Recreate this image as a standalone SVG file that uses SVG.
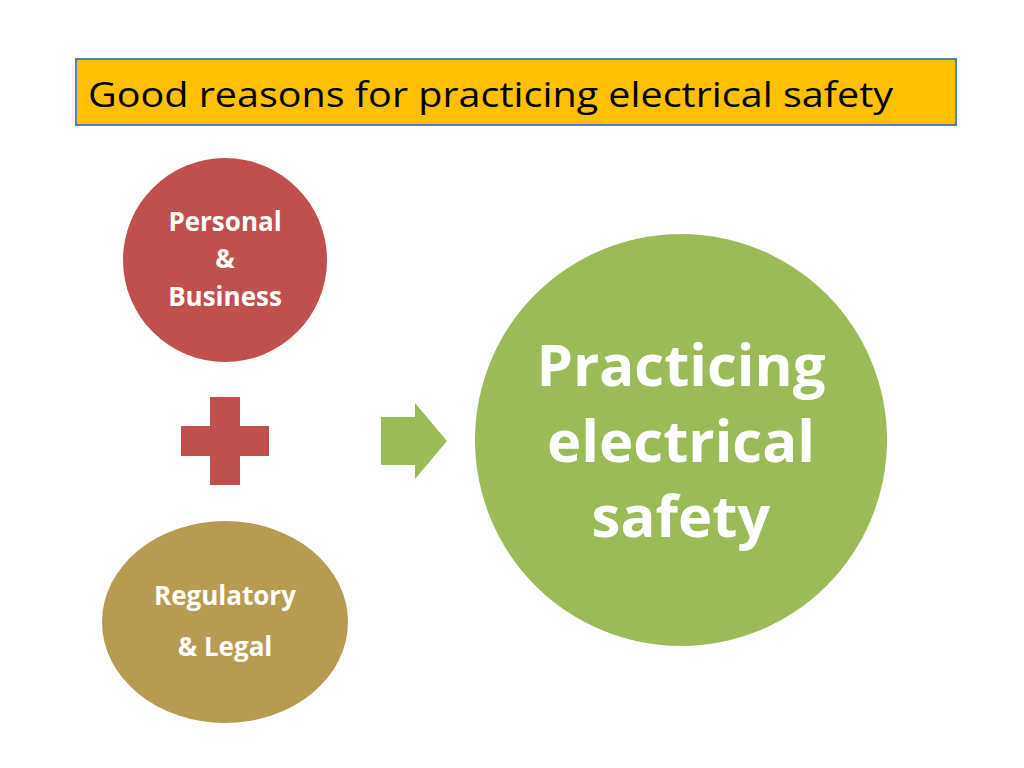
<svg xmlns="http://www.w3.org/2000/svg" width="1024" height="768" viewBox="0 0 1024 768">
<style>
.w{fill:#fff;font-family:"Open Sans","Liberation Sans",sans-serif;font-weight:bold;text-anchor:middle}
</style>
<rect width="1024" height="768" fill="#fff"/>
<g id="title">
<rect x="76" y="59" width="880" height="66" fill="#FFC000" stroke="#4F81BD" stroke-width="2"/>
<text x="88" y="107" font-family="Open Sans, Liberation Sans, sans-serif" font-size="35" fill="#000" textLength="805" lengthAdjust="spacingAndGlyphs">Good reasons for practicing electrical safety</text>
</g>
<g id="personal">
<circle cx="225" cy="260" r="102" fill="#C0504D"/>
<text class="w" font-size="26" x="225" y="231">Personal</text>
<text class="w" font-size="26" x="225" y="268">&amp;</text>
<text class="w" font-size="26" x="225" y="306">Business</text>
</g>
<g id="plus" fill="#C0504D">
<rect x="210" y="397" width="30" height="88"/>
<rect x="181" y="426" width="88" height="30"/>
</g>
<g id="regulatory">
<ellipse cx="225" cy="622" rx="123" ry="101" fill="#B89B52"/>
<text class="w" font-size="26" x="225" y="605">Regulatory</text>
<text class="w" font-size="26" x="225" y="656">&amp; Legal</text>
</g>
<g id="connectors">
<path d="M381 417H415V403L447 441L415 479V465H381Z" fill="#9BBB59"/>
</g>
<g id="safety">
<circle cx="681" cy="440" r="206" fill="#9BBB59"/>
<text class="w" font-size="58" x="681" y="386">Practicing</text>
<text class="w" font-size="58" x="681" y="462">electrical</text>
<text class="w" font-size="58" x="681" y="537">safety</text>
</g>
</svg>
